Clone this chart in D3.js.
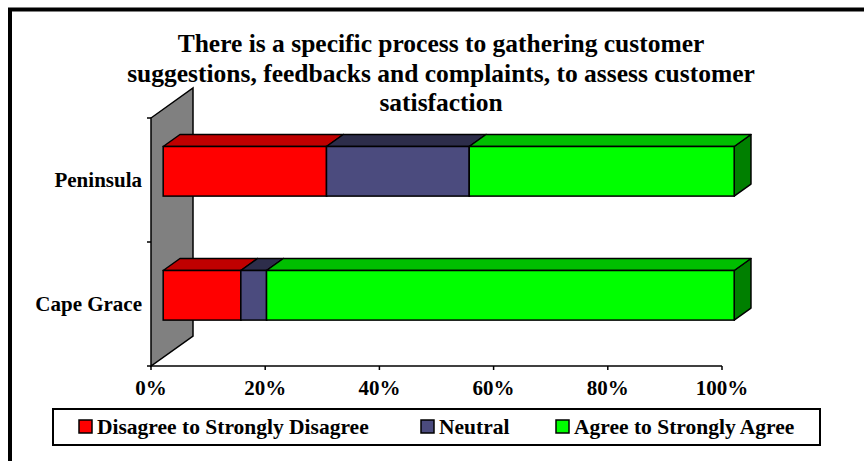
<!DOCTYPE html>
<html>
<head>
<meta charset="utf-8">
<script src="https://cdn.jsdelivr.net/npm/d3@7"></script>
<style>
  body { margin: 0; background: #fff; }
  svg text { font-family: "Liberation Serif", "Times New Roman"; font-weight: bold; }
</style>
</head>
<body>
<div id="chart"></div>
<script>
const titleLines = [
  "There is a specific process to gathering customer",
  "suggestions, feedbacks and complaints, to assess customer",
  "satisfaction"
];
const categories = ["Peninsula", "Cape Grace"];
const seriesNames = ["Disagree to Strongly Disagree", "Neutral", "Agree to Strongly Agree"];
const disagree = [28.6, 13.6];
const neutral = [25.0, 4.5];
const agree = [46.4, 81.9];
const tickValues = [0, 20, 40, 60, 80, 100];

// front / top / side shades for each series
const colors = [
  { front: "#ff0000", top: "#c00000", side: "#800000" },
  { front: "#4b4b7e", top: "#2d2d4a", side: "#25253f" },
  { front: "#00ff00", top: "#00bf00", side: "#007f00" }
];

const serif = sel => sel.style("font-family", '"Liberation Serif"').attr("font-weight", "bold");

const width = 864, height = 461;
const svg = d3.select("#chart").append("svg")
  .attr("width", width).attr("height", height)
  .style("display", "block");

// outer frame (runs off the right and bottom of the picture)
svg.append("rect")
  .attr("x", 10).attr("y", 9.5)
  .attr("width", 900).attr("height", 500)
  .attr("fill", "none").attr("stroke", "#000").attr("stroke-width", 4);

// title
svg.selectAll(".title")
  .data(titleLines)
  .join("text")
  .attr("class", "title")
  .attr("text-anchor", "middle")
  .attr("x", 441)
  .attr("y", (d, i) => 52 + i * 29.5)
  .call(serif)
  .attr("font-size", 25.5)
  .text(d => d);

// scales on the front plane
const x = d3.scaleLinear().domain([0, 100]).range([151, 722]);
const y = d3.scaleBand().domain(categories).range([118, 366]);
const depth = { dx: 42, dy: -30 };     // full wall depth
const barFront = 0.29, barBack = 0.69; // bar position inside the depth
const barFrac = 0.4;                   // bar thickness inside the band

// wall
const y0 = y.range()[0], y1 = y.range()[1], x0 = x(0);
svg.append("path")
  .attr("d", `M${x0},${y0} L${x0 + depth.dx},${y0 + depth.dy} L${x0 + depth.dx},${y1 + depth.dy} L${x0},${y1} Z`)
  .attr("fill", "#808080").attr("stroke", "#000").attr("stroke-width", 1.5);

// x axis line + ticks
const axisG = svg.append("g");
axisG.append("line")
  .attr("x1", x(0)).attr("x2", x(100))
  .attr("y1", y1).attr("y2", y1)
  .attr("stroke", "#000").attr("stroke-width", 1.5);
axisG.selectAll(".xt").data(tickValues).join("line")
  .attr("class", "xt")
  .attr("x1", d => x(d)).attr("x2", d => x(d))
  .attr("y1", y1).attr("y2", y1 + 4)
  .attr("stroke", "#000").attr("stroke-width", 1.5);
axisG.selectAll(".xl").data(tickValues).join("text")
  .attr("class", "xl")
  .attr("x", d => x(d)).attr("y", 395)
  .attr("text-anchor", "middle")
  .call(serif).attr("font-size", 21)
  .text(d => d + "%");

// category ticks on the wall's front edge
const catTicks = [y0].concat(categories.map(c => y(c) + y.bandwidth()));
axisG.selectAll(".yt").data(catTicks).join("line")
  .attr("class", "yt")
  .attr("x1", x0 - 4).attr("x2", x0)
  .attr("y1", d => d).attr("y2", d => d)
  .attr("stroke", "#000").attr("stroke-width", 1.5);
axisG.selectAll(".yl").data(categories).join("text")
  .attr("class", "yl")
  .attr("x", 142)
  .attr("y", d => y(d) + y.bandwidth() / 2 + 7)
  .attr("text-anchor", "end")
  .call(serif).attr("font-size", 21)
  .text(d => d);

// stacked 3D bars
const table = categories.map((c, i) => ({
  category: c, s0: disagree[i], s1: neutral[i], s2: agree[i]
}));
const stack = d3.stack().keys(["s0", "s1", "s2"])(table);

const fdx = depth.dx * barFront, fdy = depth.dy * barFront;
const bdx = depth.dx * barBack, bdy = depth.dy * barBack;

categories.forEach((c, ci) => {
  const bh = y.bandwidth() * barFrac;
  const top = y(c) + (y.bandwidth() - bh) / 2 + fdy;
  const bot = top + bh;
  const g = svg.append("g");
  stack.forEach((layer, si) => {
    const d = layer[ci];
    const xa = x(d[0]) + fdx, xb = x(d[1]) + fdx;
    const ddx = bdx - fdx, ddy = bdy - fdy;
    const col = colors[si];
    // side
    g.append("path")
      .attr("d", `M${xb},${top} L${xb + ddx},${top + ddy} L${xb + ddx},${bot + ddy} L${xb},${bot} Z`)
      .attr("fill", col.side).attr("stroke", "#000").attr("stroke-width", 1.5)
      .attr("stroke-linejoin", "round");
    // top
    g.append("path")
      .attr("d", `M${xa},${top} L${xa + ddx},${top + ddy} L${xb + ddx},${top + ddy} L${xb},${top} Z`)
      .attr("fill", col.top).attr("stroke", "#000").attr("stroke-width", 1.5)
      .attr("stroke-linejoin", "round");
    // front
    g.append("rect")
      .attr("x", xa).attr("y", top)
      .attr("width", xb - xa).attr("height", bh)
      .attr("fill", col.front).attr("stroke", "#000").attr("stroke-width", 1.5);
  });
});

// legend
const legend = svg.append("g");
legend.append("rect")
  .attr("x", 53).attr("y", 409).attr("width", 767).attr("height", 36)
  .attr("fill", "#fff").attr("stroke", "#000").attr("stroke-width", 2);
const legendX = [79, 421, 556];
const items = legend.selectAll(".li").data(seriesNames).join("g")
  .attr("class", "li")
  .attr("transform", (d, i) => `translate(${legendX[i]},0)`);
items.append("rect")
  .attr("x", 0).attr("y", 420).attr("width", 13).attr("height", 13)
  .attr("fill", (d, i) => colors[i].front)
  .attr("stroke", "#000").attr("stroke-width", 1.5);
items.append("text")
  .attr("x", 18).attr("y", 434)
  .call(serif).attr("font-size", 21.5)
  .text(d => d);
</script>
</body>
</html>
